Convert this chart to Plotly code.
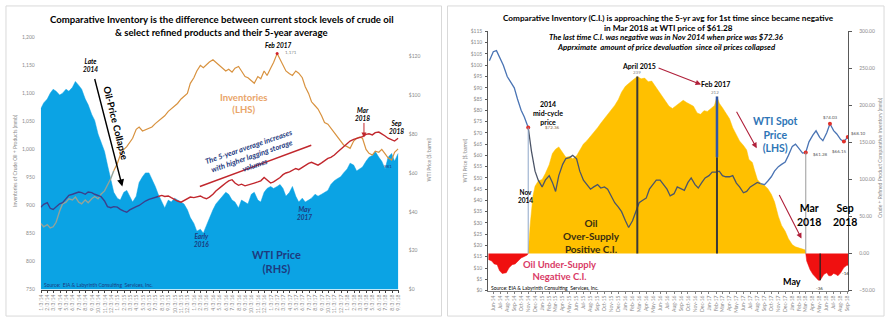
import plotly.graph_objects as go
import pandas as pd

W, H = 890, 322
def X(px): return px / W
def Y(py): return 1 - py / H

FONT = "Lato"

# ---------------- LEFT CHART DATA (semi-monthly) ----------------
L_DATES = pd.date_range("2014-01-01", "2018-09-01", freq="SMS")

L_WTI = [
    93, 96, 98, 101, 103, 102, 100, 101, 103, 102, 104, 107, 105, 103, 98, 95, 90, 87, 80, 76, 71, 64, 57, 50,
    47, 46, 50, 51, 48, 45, 48, 55, 58, 60, 60, 57, 53, 49, 45, 42, 46, 45, 47, 46, 45, 44, 41, 37,
    34, 30, 31, 29, 33, 37, 41, 44, 46, 48, 50, 49, 46, 45, 42, 46, 45, 44, 49, 50, 46, 45, 50, 52,
    53, 52, 53, 54, 52, 48, 50, 53, 48, 45, 47, 45, 46, 47, 49, 48, 49, 50, 51, 54, 56, 57, 58, 60,
    62, 65, 64, 61, 62, 63, 66, 68, 69, 71, 68, 66, 62, 68, 70, 66, 70,
]
L_INV = [
    868, 862, 866, 860, 862, 870, 890, 903, 906, 912, 910, 915, 906, 903, 910, 905, 912, 916, 912, 920, 926, 936, 948, 962,
    975, 990, 1000, 1005, 1012, 1020, 1036, 1040, 1033, 1035, 1038, 1040, 1046, 1050, 1055, 1060, 1068, 1072, 1078, 1082, 1090, 1095, 1100, 1118,
    1128, 1140, 1150, 1146, 1152, 1156, 1160, 1155, 1150, 1145, 1140, 1143, 1138, 1145, 1148, 1140, 1130, 1128, 1122, 1118, 1130, 1126, 1140, 1132,
    1145, 1155, 1171, 1160, 1150, 1140, 1135, 1132, 1140, 1136, 1128, 1112, 1100, 1085, 1078, 1072, 1060, 1048, 1045, 1038, 1030, 1022, 1015, 1008,
    1005, 1002, 1015, 1020, 1022, 1020, 1000, 993, 990, 997, 995, 1000, 992, 985, 981, 995, 1001,
]
L_AVG5 = [
    897, 902, 905, 895, 893, 898, 903, 905, 912, 918, 920, 922, 924, 923, 920, 924, 923, 920, 918, 916, 908, 898, 896, 898,
    897, 893, 890, 888, 892, 895, 898, 900, 905, 908, 911, 913, 915, 916, 918, 916, 917, 914, 910, 908, 906, 909, 913, 915,
    914, 916, 917, 914, 912, 915, 920, 926, 930, 935, 940, 944, 946, 940, 936, 938, 935, 937, 938, 940, 942, 944, 950, 946,
    940, 942, 946, 950, 955, 958, 960, 963, 966, 964, 968, 972, 975, 977, 975, 972, 976, 980, 984, 986, 990, 995, 1000, 1005,
    1010, 1015, 1018, 1020, 1021, 1023, 1027, 1028, 1026, 1030, 1031, 1028, 1024, 1020, 1017, 1015, 1020,
]
assert len(L_DATES) == len(L_WTI) == len(L_INV) == len(L_AVG5)
INV_SPLIT = 23    # Dec 15 2014: gray -> orange
AVG_SPLIT = 37    # Jul 15 2015: navy -> red

L_TICK_LABELS = (
    "1/3/14 2/3/14 3/3/14 4/3/14 5/3/14 6/3/14 7/3/14 8/3/14 9/3/14 10/3/14 11/3/14 12/3/14 "
    "1/3/15 2/3/15 3/3/15 4/3/15 5/3/15 6/3/15 7/3/15 8/3/15 9/3/15 10/3/15 11/3/15 12/3/15 "
    "1/3/16 2/3/16 3/3/16 4/3/16 5/3/16 6/3/16 7/3/16 8/3/16 9/3/16 10/3/16 11/3/16 12/3/16 "
    "1/3/17 2/3/17 3/3/17 4/3/17 5/3/17 6/3/17 7/3/17 8/3/17 9/3/17 10/3/17 11/3/17 12/3/17 "
    "1/3/18 2/3/18 3/3/18 4/3/18 5/3/18 6/3/18 7/3/18 8/3/18 9/3/18"
).split()
L_TICK_DATES = [f"{2000 + int(t.split('/')[2])}-{int(t.split('/')[0]):02d}-03" for t in L_TICK_LABELS]

# ---------------- RIGHT CHART DATA ----------------
R_PRICE_DATES = pd.date_range("2014-05-15", "2018-09-01", freq="SMS")
R_PRICE = [
    102, 106, 106.5, 103, 100, 95, 93, 90, 85, 80, 77, 72.36, 62, 53, 49,
    46, 49, 51, 48, 44, 51, 56, 58.6, 59, 60, 58.5, 53, 49, 47, 45, 46, 47, 45.5, 46, 45, 41.7, 39, 37, 35,
    31, 28, 31, 35, 39, 40, 41, 45, 47, 49, 49, 47, 45, 42, 43, 46, 45, 44.5, 48, 50, 47, 45.5, 48, 50,
    51, 52.6, 52.6, 53, 51, 50.5, 50.5, 51, 47.7, 46, 43.4, 44, 46, 47, 48, 47.5, 47, 48.5, 50.5, 53, 55, 56, 57, 60,
    64, 65, 63, 61, 61.28, 66, 69, 70.9, 68, 66.5, 70, 74.03, 71, 69.5, 67, 66.15, 68.1,
]
assert len(R_PRICE_DATES) == len(R_PRICE)
PRICE_SPLIT_A = 11   # Nov 1 2014
PRICE_SPLIT_B = 78   # Aug 15 2017

CI_NEG1_DATES = ["2014-05-10", "2014-05-25", "2014-06-05", "2014-06-18", "2014-06-28", "2014-07-10",
                 "2014-07-28", "2014-08-10", "2014-08-23", "2014-09-05", "2014-09-18", "2014-10-01",
                 "2014-10-15", "2014-10-28", "2014-11-01"]
CI_NEG1 = [-8, -10, -14, -15, -23, -27, -26, -19, -15, -14, -10, -6, -4, -2, 0]

CI_POS_DATES = [
    "2014-11-01", "2014-11-10", "2014-11-22", "2014-12-01", "2014-12-15",
    "2015-01-01", "2015-01-15", "2015-02-01", "2015-02-15", "2015-03-01", "2015-03-15", "2015-04-01",
    "2015-04-15", "2015-05-01", "2015-05-15", "2015-06-01", "2015-06-15", "2015-07-01", "2015-07-15",
    "2015-08-01", "2015-08-15", "2015-09-01", "2015-09-15", "2015-10-01", "2015-10-15", "2015-11-01",
    "2015-11-15", "2015-12-01", "2015-12-15",
    "2016-01-01", "2016-01-15", "2016-02-01", "2016-02-22", "2016-03-10", "2016-03-25", "2016-04-10",
    "2016-04-25", "2016-05-10", "2016-05-25", "2016-06-10", "2016-06-25", "2016-07-10", "2016-07-25",
    "2016-08-10", "2016-08-25", "2016-09-10", "2016-09-25", "2016-10-10", "2016-10-25", "2016-11-10",
    "2016-11-25", "2016-12-10", "2016-12-25",
    "2017-01-10", "2017-01-25", "2017-02-05", "2017-02-15", "2017-03-01", "2017-03-15", "2017-04-01",
    "2017-04-15", "2017-05-01", "2017-05-15", "2017-06-01", "2017-06-15", "2017-06-25", "2017-07-10",
    "2017-07-20", "2017-08-01", "2017-08-15", "2017-09-01", "2017-09-15", "2017-10-01", "2017-10-15",
    "2017-11-01", "2017-11-15", "2017-12-01", "2017-12-15",
    "2018-01-01", "2018-01-15", "2018-02-01", "2018-02-15", "2018-02-25", "2018-03-01",
]
CI_POS = [
    0, 40, 78, 91, 98,
    100, 108, 120, 135, 141, 144, 136, 130, 131, 128, 132, 140, 148, 152, 158, 163, 170, 176, 182, 188, 194, 200, 208, 218,
    226, 230, 234, 239, 236, 237, 232, 233, 226, 220, 212, 205, 199, 196, 200, 203, 207, 204, 201, 199, 190, 188, 193, 192,
    196, 200, 212, 203, 197, 190, 182, 170, 160, 152, 146, 140, 127, 123, 112, 100, 95, 92, 88, 80, 70, 50, 38, 30, 20,
    12, 9, 7, 6, 5, 0,
]
assert len(CI_POS_DATES) == len(CI_POS)

CI_NEG2_DATES = ["2018-03-01", "2018-03-05", "2018-03-10", "2018-03-20", "2018-04-01", "2018-04-12",
                 "2018-04-25", "2018-05-03", "2018-05-10", "2018-05-20", "2018-06-01", "2018-06-10",
                 "2018-06-20", "2018-07-01", "2018-07-10", "2018-07-20", "2018-08-01", "2018-08-10",
                 "2018-08-15", "2018-08-28", "2018-09-02"]
CI_NEG2 = [0, -10, -14, -22, -28, -32, -36, -36, -32, -28, -26, -30, -30, -27, -28, -30, -26, -22, -19, -16, -16]

R_MARK_DATES = ["2014-11-01", "2018-03-01", "2018-06-15", "2018-08-15", "2018-09-01"]
R_MARK_PRICES = [72.36, 61.28, 74.03, 66.15, 68.10]

R_TICK_LABELS = (
    "Jun-14 Jul-14 Aug-14 Sep-14 Oct-14 Nov-14 Dec-14 "
    "Jan-15 Feb-15 Mar-15 Apr-15 May-15 Jun-15 Jul-15 Aug-15 Sep-15 Oct-15 Nov-15 Dec-15 "
    "Jan-16 Feb-16 Mar-16 Apr-16 May-16 Jun-16 Jul-16 Aug-16 Sep-16 Oct-16 Nov-16 Dec-16 "
    "Jan-17 Feb-17 Mar-17 Apr-17 May-17 Jun-17 Jul-17 Aug-17 Sep-17 Oct-17 Nov-17 Dec-17 "
    "Jan-18 Feb-18 Mar-18 Apr-18 May-18 Jun-18 Jul-18 Aug-18 Sep-18"
).split()
R_TICK_DATES = list(pd.to_datetime(R_TICK_LABELS, format="%b-%y"))

# ---------------- COLOURS ----------------
C_WTI_AREA = "#0BA3E4"
C_INV = "#D8923F"
C_INV_EARLY = "#93A39A"
C_AVG = "#C1272D"
C_AVG_EARLY = "#3C3F8C"
C_NAVY = "#1E3A7E"
C_YELLOW = "#FFC000"
C_RED = "#F01010"
C_PRICE = "#4A74B4"
C_PRICE_DARK = "#4C5568"
C_TICK = "#8A8A8A"

fig = go.Figure()

# ---- left chart traces ----
fig.add_trace(go.Scatter(x=L_DATES, y=L_WTI, mode="lines", line=dict(color=C_WTI_AREA, width=0.5),
                         fill="tozeroy", fillcolor=C_WTI_AREA, xaxis="x", yaxis="y"))
fig.add_trace(go.Scatter(x=L_DATES[:INV_SPLIT + 1], y=L_INV[:INV_SPLIT + 1], mode="lines",
                         line=dict(color=C_INV_EARLY, width=1.4), xaxis="x", yaxis="y2"))
fig.add_trace(go.Scatter(x=L_DATES[INV_SPLIT:], y=L_INV[INV_SPLIT:], mode="lines",
                         line=dict(color=C_INV, width=1.2), xaxis="x", yaxis="y2"))
fig.add_trace(go.Scatter(x=L_DATES[:AVG_SPLIT + 1], y=L_AVG5[:AVG_SPLIT + 1], mode="lines",
                         line=dict(color=C_AVG_EARLY, width=1.4), xaxis="x", yaxis="y2"))
fig.add_trace(go.Scatter(x=L_DATES[AVG_SPLIT:], y=L_AVG5[AVG_SPLIT:], mode="lines",
                         line=dict(color=C_AVG, width=1.4), xaxis="x", yaxis="y2"))
fig.add_trace(go.Scatter(x=[L_DATES[L_INV.index(max(L_INV))]], y=[max(L_INV)], mode="markers",
                         marker=dict(color="#D0202A", size=3), xaxis="x", yaxis="y2"))

# ---- right chart traces ----
for d, v, c in [(CI_NEG1_DATES, CI_NEG1, C_RED), (CI_POS_DATES, CI_POS, C_YELLOW), (CI_NEG2_DATES, CI_NEG2, C_RED)]:
    fig.add_trace(go.Scatter(x=d, y=v, mode="lines", line=dict(color=c, width=0.5), fill="tozeroy",
                             fillcolor=c, xaxis="x2", yaxis="y3"))
fig.add_trace(go.Scatter(x=R_PRICE_DATES[:PRICE_SPLIT_A + 1], y=R_PRICE[:PRICE_SPLIT_A + 1], mode="lines",
                         line=dict(color=C_PRICE, width=1.3), xaxis="x2", yaxis="y4"))
fig.add_trace(go.Scatter(x=R_PRICE_DATES[PRICE_SPLIT_A:PRICE_SPLIT_B + 1], y=R_PRICE[PRICE_SPLIT_A:PRICE_SPLIT_B + 1],
                         mode="lines", line=dict(color=C_PRICE_DARK, width=1.3), xaxis="x2", yaxis="y4"))
fig.add_trace(go.Scatter(x=R_PRICE_DATES[PRICE_SPLIT_B:], y=R_PRICE[PRICE_SPLIT_B:], mode="lines",
                         line=dict(color=C_PRICE, width=1.3), xaxis="x2", yaxis="y4"))
fig.add_trace(go.Scatter(x=R_MARK_DATES, y=R_MARK_PRICES, mode="markers",
                         marker=dict(color="#E0302A", size=4), xaxis="x2", yaxis="y4"))

tickfont = dict(family=FONT, size=5, color=C_TICK)

layout = dict(
    width=W, height=H, margin=dict(l=0, r=0, t=0, b=0), autosize=False,
    paper_bgcolor="white", plot_bgcolor="rgba(0,0,0,0)", showlegend=False,
    font=dict(family=FONT, color="black"),
    xaxis=dict(domain=[X(38), X(398)], range=["2014-01-01", "2018-09-04"], type="date",
               tickvals=L_TICK_DATES, ticktext=L_TICK_LABELS, tickangle=-90, tickfont=tickfont,
               showgrid=False, zeroline=False, showline=True, linecolor="#404040", linewidth=1,
               ticks="outside", ticklen=2, tickcolor="#404040", anchor="y"),
    yaxis=dict(domain=[Y(292), Y(35)], range=[0, 129.7], side="right", anchor="x",
               tickvals=[0, 20, 40, 60, 80, 100, 120], ticktext=["$0", "$20", "$40", "$60", "$80", "$100", "$120"],
               tickfont=tickfont, showgrid=False, zeroline=False, showline=False, ticks="", ticklabelstandoff=9),
    yaxis2=dict(overlaying="y", range=[750, 1200], side="left", anchor="x", tickformat=",", dtick=50,
                tickfont=tickfont, showgrid=False, zeroline=False, showline=False, ticks="", ticklabelstandoff=5),
    xaxis2=dict(domain=[X(488), X(850)], range=["2014-05-10", "2018-09-03"], type="date",
                tickvals=R_TICK_DATES, ticktext=R_TICK_LABELS, tickangle=-90, tickfont=tickfont,
                showgrid=False, zeroline=False, showline=True, linecolor="#7F7F7F", linewidth=1,
                ticks="outside", ticklen=2, tickcolor="#7F7F7F", anchor="y3"),
    yaxis3=dict(domain=[Y(293), Y(29)], range=[-50, 300], side="right", anchor="x2", dtick=50, tickformat=".2f",
                tickfont=tickfont, showgrid=False, zeroline=False, showline=True, linecolor="#595959",
                ticks="outside", ticklen=3, tickcolor="#595959", ticklabelstandoff=6),
    yaxis4=dict(overlaying="y3", range=[0, 115], side="left", anchor="x2", dtick=5, tickprefix="$",
                tickfont=tickfont, showgrid=False, zeroline=False, showline=True, linecolor="#595959",
                ticks="outside", ticklen=2, tickcolor="#595959", ticklabelstandoff=2),
)

ann = []
def txt(x, y, text, size, color="black", bold=True, italic=False, angle=0, xanchor="center", yanchor="middle", align="center"):
    t = text
    if italic:
        t = f"<i>{t}</i>"
    if bold:
        t = f"<b>{t}</b>"
    ann.append(dict(x=X(x), y=Y(y), xref="paper", yref="paper", text=t, showarrow=False, textangle=angle,
                    font=dict(family=FONT, size=size, color=color), xanchor=xanchor, yanchor=yanchor, align=align))

def arrow(x0, y0, x1, y1, color, width=1.2, head=2):
    ann.append(dict(x=X(x1), y=Y(y1), xref="paper", yref="paper", ax=x0 - x1, ay=y0 - y1, text="",
                    showarrow=True, arrowhead=head, arrowsize=1, arrowwidth=width, arrowcolor=color))

# ---- left chart text ----
txt(220, 17, "Comparative Inventory is the difference between current stock levels of crude oil", 9.6)
txt(220, 30, "& select refined products and their 5-year average", 9.6)
txt(88, 64, "Late<br>2014", 6.5, italic=True)
txt(113, 122, "Oil-Price Collapse", 9.5, angle=76)
arrow(92, 78, 120, 187, "black", width=1.4)
txt(277, 43, "Feb 2017", 6.5, italic=True)
txt(290, 50.5, "1,171", 4.5, color="#7F7F7F", bold=False)
txt(242, 102, "Inventories<br>(LHS)", 9.5, color="#E9A468")
txt(362, 113.5, "Mar<br>2018", 6.5, italic=True)
arrow(363, 121, 363, 137, "#C1272D", width=1, head=2)
txt(396, 126.5, "Sep<br>2018", 6.5, italic=True)
txt(250, 156, "The 5-year average increases<br>with higher lagging storage<br>volumes", 7.5, color=C_NAVY, italic=True, angle=-19)
txt(200, 242.5, "Early<br>2016", 6.5, color=C_NAVY, italic=True)
txt(303, 214.5, "May<br>2017", 6.5, color=C_NAVY, italic=True)
txt(275, 263.5, "WTI Price<br>(RHS)", 11, color=C_NAVY)
txt(39, 287, "Source:  EIA & Labyrinth Consulting  Services, Inc.", 5, color=C_NAVY, bold=False, xanchor="left")
txt(387, 167, "981", 4.5, color=C_NAVY, bold=False)
txt(12, 160, "Inventories of Crude Oil + Products (mmb)", 5, color=C_TICK, bold=False, angle=-90)
txt(428, 160, "WTI Price ($/barrel)", 5, color=C_TICK, bold=False, angle=-90)

# ---- right chart text ----
txt(669, 15, "Comparative Inventory (C.I.) is approaching the 5-yr avg for 1st time since became negative", 8.2)
txt(669, 25.5, "in Mar 2018 at WTI price of $61.28", 8.2)
txt(667, 34.5, "The last time C.I. was negative was in Nov 2014 when price was $72.36", 7.8, italic=True)
txt(667, 45, "Apprximate  amount of price devaluation  since oil prices collapsed", 7.8, italic=True)
txt(640, 64, "April 2015", 7)
txt(638, 70.5, "239", 4.5, color="#7F7F7F", bold=False)
arrow(658, 66, 702, 83, "#B0203A", width=1.1)
txt(717, 83, "Feb 2017", 7)
txt(716, 91, "212", 4.5, color="#7F7F7F", bold=False)
arrow(737, 110, 758, 148, "#B0203A", width=1.1)
arrow(780, 195, 803, 240, "#B0203A", width=1.1)
txt(548, 112.5, "2014<br>mid-cycle<br>price", 7)
txt(543, 127, "$72.36", 4.5, color="#7F5F3F", bold=False, xanchor="left")
txt(777, 134.5, "WTI Spot<br>Price<br>(LHS)", 10.5, color="#2E75B6")
txt(832, 117, "$74.03", 4.5, color="#555555", bold=False)
txt(822, 154, "$61.28", 4.5, color="#555555", bold=False)
txt(841, 151, "$66.15", 4.5, color="#555555", bold=False)
txt(851, 133, "$68.10", 4.5, color="#555555", bold=False, xanchor="left")
txt(525, 197, "Nov<br>2014", 6.5)
txt(592, 237, "Oil<br>Over-Supply<br>Positive C.I.", 10, color="#3A2E10")
txt(560, 272.5, "Oil Under-Supply<br>Negative C.I.", 9.5, color="#D93A66")
txt(811, 216.5, "Mar<br>2018", 10.5)
txt(847, 216.5, "Sep<br>2018", 10.5)
txt(793, 284, "May", 9)
txt(821, 291, "-36", 4.5, color="#333333", bold=False)
txt(847, 276, "-16", 4.5, color="#333333", bold=False)
txt(489, 290.5, "Source: EIA & Labyrinth Consulting  Services, Inc.", 5, bold=False, xanchor="left")
txt(465, 160, "WTI Price ($/barrel)", 5, color=C_TICK, bold=False, angle=-90)
txt(882, 158, "Crude + Refined Product Comparative Inventory (mmb)", 5, color=C_TICK, bold=False, angle=-90)

shapes = [
    dict(type="rect", xref="paper", yref="paper", x0=X(3), x1=X(441), y0=Y(319), y1=Y(3),
         line=dict(color="#D9D9D9", width=1), layer="below"),
    dict(type="rect", xref="paper", yref="paper", x0=X(447), x1=X(886), y0=Y(319), y1=Y(3),
         line=dict(color="#D9D9D9", width=1), layer="below"),
    # 5-year-average underline on left chart
    dict(type="line", xref="paper", yref="paper", x0=X(198), y0=Y(187), x1=X(310), y1=Y(145),
         line=dict(color=C_AVG, width=1.5)),
    # right chart markers
    dict(type="line", xref="x2", yref="y3", x0="2016-02-22", x1="2016-02-22", y0=0, y1=239,
         line=dict(color="#3A3A3A", width=2)),
    dict(type="line", xref="x2", yref="y3", x0="2017-02-05", x1="2017-02-05", y0=0, y1=130,
         line=dict(color="#3A3A3A", width=2)),
    dict(type="line", xref="x2", yref="y3", x0="2017-02-05", x1="2017-02-05", y0=130, y1=212,
         line=dict(color="#2F55A4", width=2.5)),
    dict(type="line", xref="x2", yref="y3", x0="2018-05-03", x1="2018-05-03", y0=0, y1=-36,
         line=dict(color="#222222", width=1.3)),
    dict(type="line", xref="x2", yref="y4", x0="2014-11-01", x1="2014-11-01", y0=16.4, y1=72.36,
         line=dict(color="#8EA6C8", width=1)),
    dict(type="line", xref="x2", yref="y4", x0="2018-03-01", x1="2018-03-01", y0=16.4, y1=61.28,
         line=dict(color="#9A9A9A", width=1)),
]

layout["annotations"] = ann
layout["shapes"] = shapes
fig.update_layout(**layout)
fig.write_html("out.html")
